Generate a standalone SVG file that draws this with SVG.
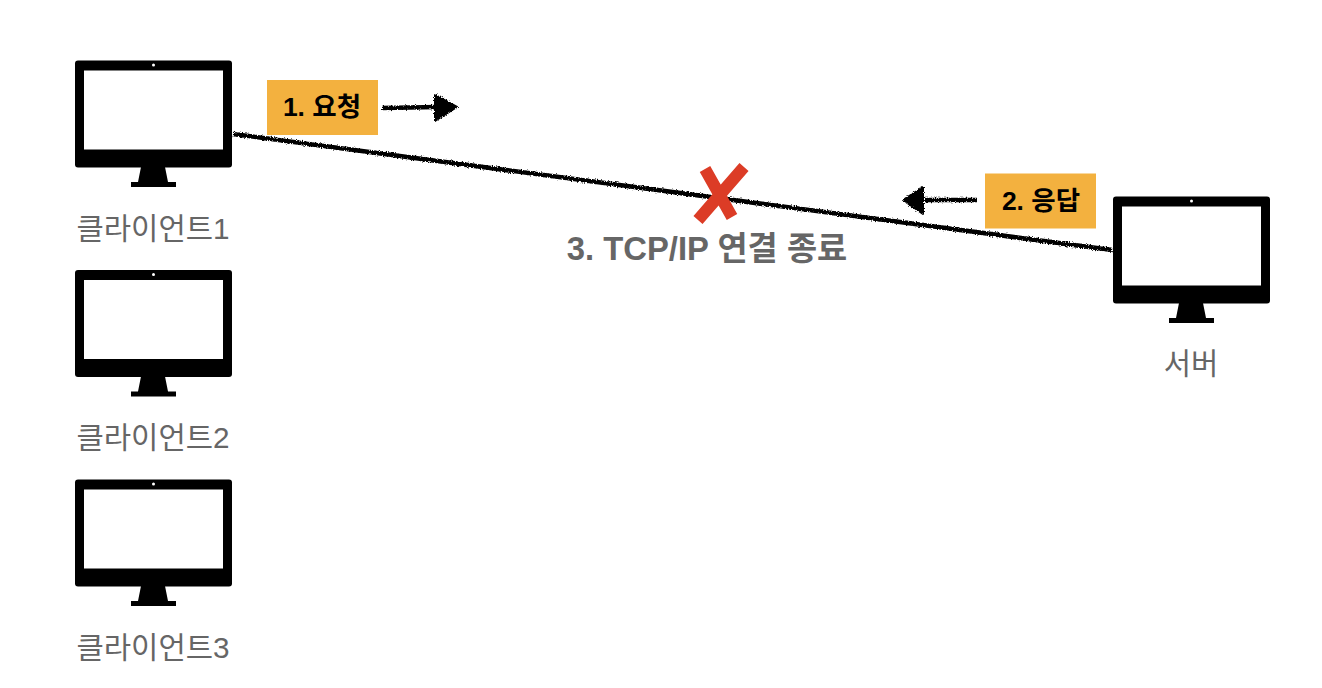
<svg xmlns="http://www.w3.org/2000/svg" width="1322" height="688" viewBox="0 0 1322 688">
<style>
.lbl{font-family:"Liberation Sans","Noto Sans CJK KR",sans-serif;font-size:29.700px;fill:#666;text-anchor:middle}
.tag{font-family:"Liberation Sans","Noto Sans CJK KR",sans-serif;font-size:26.500px;font-weight:700;fill:#000;text-anchor:middle}
.box{fill:#f3b13f}
.rough{fill:none;stroke:#000;stroke-width:4.600;filter:url(#rough)}
.head{fill:#000;stroke:#000;stroke-width:2;stroke-linejoin:round;filter:url(#rough)}
</style>
<defs>
<filter id="rough" filterUnits="userSpaceOnUse" x="0" y="0" width="1322" height="688"><feTurbulence type="fractalNoise" baseFrequency="0.8" numOctaves="2" seed="4"/><feDisplacementMap in="SourceGraphic" scale="3.500" xChannelSelector="R" yChannelSelector="G"/></filter>
<symbol id="mon" width="158" height="128" viewBox="0 0 158 128" overflow="visible">
<rect x="0" y="0.5" width="157" height="107" rx="3" fill="#000"/>
<rect x="9" y="10.5" width="139" height="79" fill="#fff"/>
<circle cx="78.5" cy="5" r="1.5" fill="#fff"/>
<path d="M66 107H90L93 122H101V127H56V122H63Z" fill="#000"/>
</symbol>
</defs>
<rect width="1322" height="688" fill="#fff"/>
<g id="client1"><use href="#mon" x="75" y="60"/><text class="lbl" x="153" y="238.500">클라이언트1</text></g>
<g id="client2"><use href="#mon" x="75" y="269.500"/><text class="lbl" x="153" y="447.500">클라이언트2</text></g>
<g id="client3"><use href="#mon" x="75" y="479"/><text class="lbl" x="153" y="657.500">클라이언트3</text></g>
<g id="server"><use href="#mon" x="1113" y="196"/><text class="lbl" x="1191" y="373.500">서버</text></g>
<g id="connectors">
<path class="rough" d="M233 134L1112 250"/>
<path class="rough" d="M382 108L438 107"/>
<path class="head" d="M435 95L457 107L435 121Z"/>
<path class="rough" d="M977 200L925 200"/>
<path class="head" d="M923 187L903 200L923 214Z"/>
</g>
<g id="request"><rect class="box" x="267" y="80" width="111" height="55"/><text class="tag" x="322" y="116">1. 요청</text></g>
<g id="response"><rect class="box" x="985" y="173.500" width="111" height="55"/><text class="tag" x="1041" y="210">2. 응답</text></g>
<g id="close">
<path d="M705 169L732 217M744 167L698 220" fill="none" stroke="#dc3c26" stroke-width="12" stroke-linejoin="round"/>
<text x="707" y="260" font-family="'Liberation Sans','Noto Sans CJK KR',sans-serif" font-size="32.800" font-weight="700" fill="#666" text-anchor="middle">3. TCP/IP 연결 종료</text>
</g>
</svg>
